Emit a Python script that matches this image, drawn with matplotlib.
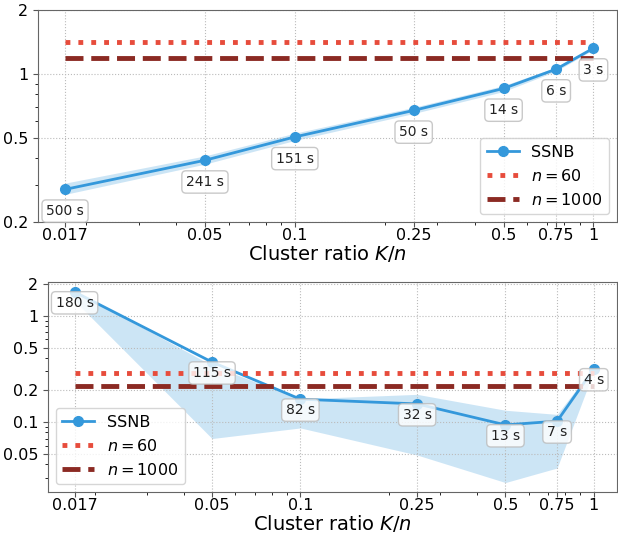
import matplotlib
matplotlib.use('Agg')
import matplotlib.pyplot as plt
import numpy as np
from matplotlib.ticker import NullFormatter

ratios = [0.017, 0.05, 0.1, 0.25, 0.5, 0.75, 1]
ratio_labels = ['0.017', '0.05', '0.1', '0.25', '0.5', '0.75', '1']

# top panel
top_ssnb = [0.285, 0.391, 0.504, 0.672, 0.853, 1.052, 1.321]
top_low = [0.27, 0.375, 0.485, 0.65, 0.825, 1.03, 1.30]
top_high = [0.305, 0.41, 0.525, 0.695, 0.88, 1.075, 1.34]
top_times = ['500 s', '241 s', '151 s', '50 s', '14 s', '6 s', '3 s']
top_n60 = 1.42
top_n1000 = 1.19
top_yticks = [0.2, 0.5, 1, 2]
top_ylabels = ['0.2', '0.5', '1', '2']

# bottom panel
bot_ssnb = [1.67, 0.366, 0.164, 0.148, 0.094, 0.102, 0.316]
bot_low = [1.38, 0.07, 0.088, 0.049, 0.027, 0.037, 0.30]
bot_high = [1.72, 0.34, 0.165, 0.182, 0.129, 0.118, 0.33]
bot_times = ['180 s', '115 s', '82 s', '32 s', '13 s', '7 s', '4 s']
bot_n60 = 0.29
bot_n1000 = 0.22
bot_yticks = [0.05, 0.1, 0.2, 0.5, 1, 2]
bot_ylabels = ['0.05', '0.1', '0.2', '0.5', '1', '2']

blue = '#3498db'
red = '#e74c3c'
dark = '#8b2a23'


def draw(ax, ssnb, low, high, times, n60, n1000, yticks, ylabels, ylim, legloc):
    ax.fill_between(ratios, low, high, color=blue, alpha=0.25, lw=0)
    ax.plot(ratios, ssnb, '-o', color=blue, lw=2, ms=7, label='SSNB')
    ax.plot([ratios[0], ratios[-1]], [n60, n60], ':', color=red, lw=3.5, label='$n = 60$')
    ax.plot([ratios[0], ratios[-1]], [n1000, n1000], '--', color=dark, lw=3.5, label='$n = 1000$')
    for x, y, t in zip(ratios, ssnb, times):
        ax.text(x, y * 0.79, t, ha='center', va='center', fontsize=10, color='#222222',
                bbox=dict(boxstyle='round,pad=0.3', fc='white', ec='#bbbbbb', alpha=0.8))
    ax.set_xscale('log')
    ax.set_yscale('log')
    ax.set_xlim(0.0138, 1.2)
    ax.set_ylim(*ylim)
    ax.set_xticks(ratios)
    ax.set_xticklabels(ratio_labels)
    ax.set_yticks(yticks)
    ax.set_yticklabels(ylabels)
    ax.xaxis.set_minor_formatter(NullFormatter())
    ax.yaxis.set_minor_formatter(NullFormatter())
    ax.tick_params(labelsize=11.5, colors='#555555', labelcolor='black')
    ax.tick_params(axis='x', which='major', pad=1)
    ax.grid(True, which='major', ls=':', color='#bbbbbb', lw=0.8)
    for s in ax.spines.values():
        s.set_color('#666666')
    ax.set_xlabel('Cluster ratio $K/n$', fontsize=14, labelpad=-0.5)
    ax.legend(loc=legloc, fontsize=11.5)


fig = plt.figure(figsize=(6.18, 5.33), dpi=100)
ax1 = fig.add_axes([0.0615, 0.5835, 0.937, 0.3977])
ax2 = fig.add_axes([0.0777, 0.0769, 0.9207, 0.394])

draw(ax1, top_ssnb, top_low, top_high, top_times, top_n60, top_n1000,
     top_yticks, top_ylabels, (0.2, 2), 'lower right')
draw(ax2, bot_ssnb, bot_low, bot_high, bot_times, bot_n60, bot_n1000,
     bot_yticks, bot_ylabels, (0.022, 2.07), 'lower left')

fig.savefig('out.png', dpi=100)
